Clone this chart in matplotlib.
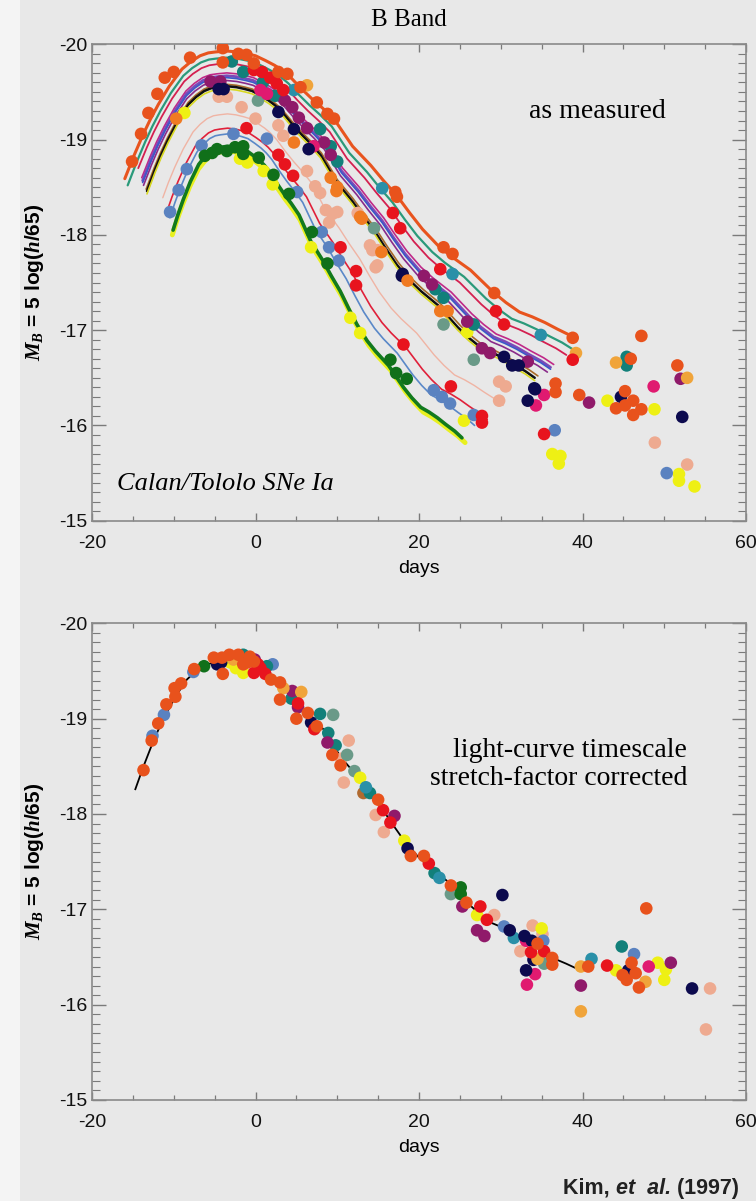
import numpy as np
import matplotlib
matplotlib.use("Agg")
import matplotlib.pyplot as plt
from matplotlib.patches import Rectangle
from matplotlib.ticker import MultipleLocator

plt.rcParams["axes.unicode_minus"] = False
plt.rcParams["mathtext.fontset"] = "custom"
plt.rcParams["mathtext.it"] = "Liberation Serif:italic:bold"
plt.rcParams["mathtext.rm"] = "Liberation Sans:bold"

SANS = ["Liberation Sans", "DejaVu Sans"]
SERIF = ["Liberation Serif", "DejaVu Serif"]
BG = "#e8e8e8"

# template light curve (black line of the lower panel): day, magnitude
tmpl_day = [-14.7, -13.7, -12.7, -11.9, -11.0, -9.8, -8.4, -7.4, -6.4, -5.5, -4.7, -3.5,
            -2.3, -1.2, -0.3, 0.8, 1.8, 2.6, 3.5, 4.7, 5.9, 7.1, 8.4, 9.4, 10.4, 11.4,
            12.4, 13.8, 15.3, 16.7, 18.1, 19.8, 21.2, 23.4, 25.9, 27.3, 28.8, 30.2,
            31.6, 33.0, 34.5, 35.7, 36.9, 38.0, 39.0]
tmpl_mag = [-18.26, -18.50, -18.72, -18.88, -19.04, -19.23, -19.41, -19.49, -19.55, -19.58,
            -19.59, -19.60, -19.59, -19.57, -19.55, -19.50, -19.45, -19.40, -19.33, -19.21,
            -19.10, -19.00, -18.88, -18.74, -18.60, -18.50, -18.40, -18.24, -18.08, -17.90,
            -17.73, -17.56, -17.45, -17.30, -17.07, -16.96, -16.86, -16.81, -16.75, -16.68,
            -16.61, -16.54, -16.47, -16.43, -16.39]

# fitted curves of the upper panel (stretched template)
curve_color = ["#e8541e", "#2a9a7a", "#d42050", "#c02888", "#7a4ab8", "#3a5ac8", "#8a2a8a",
               "#a86a28", "#101010", "#d8d820", "#f0b4a4", "#e0203a", "#5a88c8", "#e8f020",
               "#127a1e"]
curve_peak = [-19.93, -19.86, -19.80, -19.70, -19.67, -19.65, -19.62, -19.58, -19.56, -19.53,
              -19.27, -19.12, -19.06, -18.88, -18.93]
curve_stretch = [1.11, 1.08, 1.06, 1.02, 1.01, 1.01, 1.00, 0.97, 0.96, 0.96, 0.86, 0.81,
                 0.77, 0.74, 0.73]
curve_start = [-16.0, -15.8, -15.2, -14.5, -14.3, -14.1, -13.9, -13.7, -13.6, -13.5, -11.9,
               -11.3, -10.6, -10.4, -10.2]
curve_end = [38.8, 38.8, 38.8, 36.7, 36.7, 36.7, 36.7, 34.9, 34.9, 34.9, 30.8, 28.7, 27.5,
             26.0, 25.7]
curve_width = [2.2, 1.6, 1.3, 1.2, 2.0, 1.2, 1.2, 1.2, 1.8, 1.2, 1.0, 1.2, 1.2, 3.5, 2.6]

# observed points, upper panel (day, mag) by colour
top_orangered = [(-15.1, -18.77), (-14.0, -19.06), (-13.1, -19.28), (-12.0, -19.48),
                 (-11.1, -19.65), (-10.0, -19.71), (-8.0, -19.86), (-4.0, -19.96),
                 (-2.1, -19.90), (-1.1, -19.89), (-4.0, -19.81), (-0.2, -19.80), (2.8, -19.71),
                 (3.9, -19.69), (5.5, -19.55), (7.5, -19.39), (8.8, -19.27), (9.6, -19.22),
                 (17.1, -18.45), (17.3, -18.40), (23.0, -17.87), (24.1, -17.80), (29.2, -17.39),
                 (38.8, -16.92), (36.7, -16.44), (36.7, -16.35), (39.6, -16.32), (45.2, -16.36),
                 (44.1, -16.18), (45.2, -16.21), (46.2, -16.26), (46.2, -16.11), (47.2, -16.17),
                 (47.2, -16.94), (51.6, -16.63), (45.9, -16.70)]
top_orange = [(-9.7, -19.22), (4.7, -18.97), (9.2, -18.60), (10.0, -18.50), (12.8, -18.19),
              (13.0, -18.17), (15.4, -17.82), (18.6, -17.52), (22.6, -17.20), (23.5, -17.20),
              (9.9, -18.46)]
top_amber = [(6.3, -19.57), (39.2, -16.76), (44.1, -16.66), (52.8, -16.50)]
top_red = [(-1.1, -19.12), (2.8, -18.84), (3.6, -18.74), (4.6, -18.62), (10.4, -17.87),
           (12.3, -17.62), (12.3, -17.47), (18.1, -16.85), (23.9, -16.41), (27.7, -16.10),
           (27.7, -16.03), (35.3, -15.91), (-0.2, -19.73), (0.8, -19.71), (1.8, -19.65),
           (2.6, -19.59), (3.4, -19.52), (16.8, -18.23), (17.7, -18.07), (22.6, -17.64),
           (29.4, -17.20), (30.4, -17.06), (38.8, -16.69)]
top_teal = [(-2.9, -19.82), (-1.5, -19.71), (0.9, -19.60), (2.4, -19.46), (7.9, -19.11),
            (9.2, -18.93), (10.0, -18.77), (22.0, -17.43), (23.0, -17.34), (26.7, -17.06),
            (45.4, -16.72), (45.4, -16.63)]
top_tealblue = [(4.7, -19.52), (15.5, -18.49), (24.1, -17.59), (34.9, -16.95)]
top_steel = [(-10.45, -18.24), (-9.4, -18.47), (-8.4, -18.69), (-6.6, -18.94), (-2.7, -19.06),
             (1.4, -19.01), (5.1, -18.45), (8.1, -18.03), (9.0, -17.87), (10.2, -17.73),
             (21.8, -16.37), (22.8, -16.30), (23.8, -16.23), (26.7, -16.11), (36.6, -15.95),
             (50.3, -15.50)]
top_yellow = [(-8.7, -19.28), (-1.9, -18.80), (-1.0, -18.76), (1.0, -18.67), (2.1, -18.53),
              (6.8, -17.87), (11.6, -17.13), (12.8, -16.97), (25.5, -16.05), (25.9, -16.98),
              (43.05, -16.26), (48.8, -16.17), (36.3, -15.70), (37.3, -15.68), (37.1, -15.60),
              (51.8, -15.49), (51.8, -15.42), (53.7, -15.36)]
top_green = [(-6.2, -18.83), (-5.3, -18.86), (-4.7, -18.90), (-3.5, -18.88), (-2.5, -18.92),
             (-1.5, -18.93), (-1.5, -18.85), (0.4, -18.81), (2.2, -18.63), (4.1, -18.43),
             (6.9, -18.03), (8.8, -17.70), (16.5, -16.69), (17.2, -16.55), (18.5, -16.49)]
top_navy = [(-4.5, -19.53), (-3.9, -19.53), (2.8, -19.29), (4.7, -19.11), (6.5, -18.90),
            (17.9, -17.57), (18.0, -17.59), (30.4, -16.72), (31.4, -16.63), (32.2, -16.63),
            (34.1, -16.39), (33.3, -16.26), (34.2, -16.38), (44.7, -16.30), (52.2, -16.09)]
top_purple = [(3.6, -19.41), (4.5, -19.34), (5.3, -19.23), (6.3, -19.12), (8.4, -18.97),
              (9.2, -18.84), (20.6, -17.57), (21.6, -17.48), (25.9, -17.09), (27.7, -16.81),
              (28.7, -16.76), (33.3, -16.67), (40.8, -16.24), (52.0, -16.49), (-5.5, -19.61),
              (-4.3, -19.61)]
top_pink = [(0.6, -19.52), (1.4, -19.48), (7.1, -18.93), (34.3, -16.21), (35.3, -16.32),
            (48.7, -16.41)]
top_salmon = [(-4.5, -19.45), (-3.5, -19.45), (-1.7, -19.34), (0.0, -19.22), (2.8, -19.15),
              (3.4, -19.04), (6.3, -18.67), (7.3, -18.51), (7.9, -18.44), (8.6, -18.26),
              (9.4, -18.22), (9.0, -18.13), (10.0, -18.24), (12.5, -18.23), (14.0, -17.89),
              (14.9, -17.84), (14.9, -17.68), (14.3, -17.84), (14.7, -17.66), (29.8, -16.46),
              (30.6, -16.41), (29.8, -16.26), (48.85, -15.82), (52.8, -15.59)]
top_graygreen = [(0.3, -19.41), (14.5, -18.07), (23.0, -17.06), (26.7, -16.69)]

# observed points, lower panel (stretch corrected)
bot_orangered = [(-13.7, -18.46), (-12.7, -18.77), (-11.9, -18.95), (-10.9, -19.15),
                 (-9.8, -19.23), (-9.9, -19.32), (-9.1, -19.37), (-7.5, -19.52), (-5.1, -19.64),
                 (-4.1, -19.64), (-4.0, -19.47), (-3.2, -19.67), (-2.1, -19.67), (-1.5, -19.57),
                 (-1.0, -19.59), (-0.7, -19.65), (-0.2, -19.60), (1.9, -19.41), (3.0, -19.38),
                 (3.0, -19.20), (5.0, -19.00), (6.4, -19.06), (7.5, -18.92), (9.4, -18.62),
                 (10.4, -18.51), (15.0, -18.15), (19.0, -17.56), (20.6, -17.56), (23.9, -17.25),
                 (25.8, -17.07), (34.5, -16.64), (36.3, -16.49), (36.3, -16.42), (40.7, -16.40),
                 (46.0, -16.44), (46.5, -16.33), (45.4, -16.26), (46.9, -16.18), (47.8, -17.01),
                 (44.9, -16.31)]
bot_red = [(-0.2, -19.48), (0.3, -19.57), (0.6, -19.53), (1.2, -19.47), (5.2, -19.16),
           (7.2, -18.89), (15.6, -18.04), (16.5, -17.91), (21.2, -17.48), (27.5, -17.03),
           (28.3, -16.89), (33.7, -16.55), (35.3, -16.56), (43.0, -16.41)]
bot_steel = [(-12.6, -18.82), (-11.2, -19.04), (-7.6, -19.49), (2.1, -19.57), (30.4, -16.82),
             (35.2, -16.67), (46.3, -16.53)]
bot_green = [(-6.3, -19.55), (25.1, -17.23), (25.1, -17.16)]
bot_navy = [(-4.7, -19.57), (-4.2, -19.59), (6.8, -18.96), (18.6, -17.64), (30.2, -17.15),
            (31.1, -16.78), (32.9, -16.72), (33.8, -16.67), (34.0, -16.47), (33.1, -16.36),
            (45.6, -16.36), (53.4, -16.17)]
bot_yellow = [(-3.1, -19.59), (-2.4, -19.53), (-1.5, -19.48), (12.8, -18.38), (18.2, -17.72),
              (27.1, -16.94), (35.0, -16.80), (44.1, -16.36), (49.2, -16.44), (50.2, -16.37),
              (50.0, -16.26)]
bot_amber = [(-2.7, -19.62), (3.4, -19.32), (5.6, -19.28), (34.5, -16.48), (39.8, -16.40),
             (39.8, -15.93), (47.7, -16.24)]
bot_teal = [(-1.5, -19.67), (1.4, -19.55), (4.4, -19.21), (7.9, -19.05), (8.9, -18.85),
            (9.8, -18.72), (14.0, -18.22), (21.9, -17.38), (44.8, -16.61)]
bot_tealblue = [(13.5, -18.28), (22.5, -17.33), (31.6, -16.70), (41.1, -16.48)]
bot_purple = [(-0.1, -19.62), (4.5, -19.29), (5.2, -19.12), (8.8, -18.75), (17.0, -17.98),
              (25.3, -17.03), (27.1, -16.78), (28.0, -16.72), (39.8, -16.20), (50.8, -16.44)]
bot_pink = [(33.1, -16.67), (34.2, -16.32), (33.2, -16.21), (48.1, -16.40)]
bot_salmon = [(11.4, -18.77), (10.5, -18.58), (10.8, -18.33), (14.7, -17.99), (15.7, -17.81),
              (29.2, -16.94), (33.9, -16.83), (35.1, -16.74), (32.4, -16.56), (55.6, -16.17),
              (55.1, -15.74)]
bot_graygreen = [(9.5, -19.04), (11.2, -18.62), (12.1, -18.45), (23.9, -17.16), (35.3, -16.43)]
bot_brown = [(13.2, -18.22)]

C = {"orangered": "#e8521c", "orange": "#f07a22", "amber": "#f0a43a", "red": "#e8141e",
     "teal": "#12807a", "tealblue": "#2a90a8", "steel": "#5a82c0", "yellow": "#eef014",
     "green": "#10701a", "navy": "#0c0a4e", "purple": "#901a6a", "pink": "#e01a70",
     "salmon": "#eeaa90", "graygreen": "#6a9a88", "brown": "#b06a30"}

top_sets = [(top_salmon, "salmon"), (top_graygreen, "graygreen"), (top_yellow, "yellow"),
            (top_steel, "steel"), (top_green, "green"), (top_teal, "teal"),
            (top_tealblue, "tealblue"), (top_purple, "purple"), (top_pink, "pink"),
            (top_navy, "navy"), (top_orange, "orange"), (top_amber, "amber"),
            (top_red, "red"), (top_orangered, "orangered")]
bot_sets = [(bot_salmon, "salmon"), (bot_graygreen, "graygreen"), (bot_brown, "brown"),
            (bot_yellow, "yellow"), (bot_steel, "steel"), (bot_green, "green"),
            (bot_teal, "teal"), (bot_tealblue, "tealblue"), (bot_purple, "purple"),
            (bot_pink, "pink"), (bot_navy, "navy"), (bot_amber, "amber"),
            (bot_red, "red"), (bot_orangered, "orangered")]


def style_axes(ax):
    ax.set_facecolor(BG)
    ax.set_xlim(-20, 60)
    ax.set_ylim(-15, -20)
    ax.xaxis.set_major_locator(MultipleLocator(20))
    ax.xaxis.set_minor_locator(MultipleLocator(5))
    ax.yaxis.set_major_locator(MultipleLocator(1))
    ax.yaxis.set_minor_locator(MultipleLocator(0.1))
    ax.tick_params(axis="both", which="both", direction="in", top=True, right=True,
                   colors="#7a7a7a", labelcolor="#111111")
    ax.tick_params(axis="x", which="major", length=6, width=1.0, pad=10, labelsize=14)
    ax.tick_params(axis="x", which="minor", length=3.5, width=0.9)
    ax.tick_params(axis="y", which="major", length=10, width=1.0, pad=3.5, labelsize=14)
    ax.tick_params(axis="y", which="minor", length=5.5, width=0.8)
    for lab in ax.get_xticklabels() + ax.get_yticklabels():
        lab.set_family(SANS)
    for sp in ax.spines.values():
        sp.set_color("#8a8a8a")
        sp.set_linewidth(1.2)
    ax.set_xlabel("days", family=SANS, fontsize=14, labelpad=6)
    ax.set_ylabel(r"$M_B$ = 5 log($h$/65)", family=SANS, fontweight="bold", fontsize=15)
    ax.yaxis.set_label_coords(-0.07, 0.5)


fig = plt.figure(figsize=(7.56, 12.01), dpi=100, facecolor=BG)
fig.patches.append(Rectangle((0, 0), 20 / 756, 1, transform=fig.transFigure,
                             facecolor="#f4f4f4", edgecolor="none", zorder=0))

ax1 = fig.add_axes([0.1217, 0.5664, 0.8651, 0.3967])
ax2 = fig.add_axes([0.1217, 0.0841, 0.8651, 0.3969])
style_axes(ax1)
style_axes(ax2)

# upper panel: stretched template for each supernova
td = np.array(tmpl_day)
tm = np.array(tmpl_mag)
t0 = -3.0
for col, pk, s, d0, d1, lw in zip(curve_color, curve_peak, curve_stretch, curve_start,
                                  curve_end, curve_width):
    days = t0 + (td - t0) * s
    mags = tm + (pk - tm.min())
    keep = (days >= d0) & (days <= d1)
    ax1.plot(days[keep], mags[keep], color=col, lw=lw, zorder=2, solid_capstyle="round",
             solid_joinstyle="round")

for pts, key in top_sets:
    arr = np.array(pts)
    ax1.scatter(arr[:, 0], arr[:, 1], s=82, color=C[key], edgecolors="none", zorder=3)

# lower panel
ax2.plot(tmpl_day, tmpl_mag, color="black", lw=1.3, zorder=2)
for pts, key in bot_sets:
    arr = np.array(pts)
    ax2.scatter(arr[:, 0], arr[:, 1], s=82, color=C[key], edgecolors="none", zorder=3)

fig.text(0.541, 0.983, "B Band", ha="center", va="center", family=SERIF, fontsize=18)
ax1.text(33.4, -19.3, "as measured", ha="left", va="center", family=SERIF, fontsize=20)
ax1.text(-16.9, -15.39, "Calan/Tololo SNe Ia", ha="left", va="center", family=SERIF,
         style="italic", fontsize=19)
ax2.text(52.8, -18.52, "light-curve timescale\nstretch-factor corrected", ha="right",
         va="center", multialignment="right", family=SERIF, fontsize=20, linespacing=1.2)

t1 = fig.text(0.745, 0.006, "Kim, ", family=SANS, fontweight="bold", fontsize=15.5,
              va="baseline", color="#222222")
t2 = ax2.annotate("et  al.", xy=(1, 0), xycoords=t1, va="bottom", ha="left", family=SANS,
                  fontweight="bold", style="italic", fontsize=15.5, color="#222222",
                  annotation_clip=False)
ax2.annotate(" (1997)", xy=(1, 0), xycoords=t2, va="bottom", ha="left", family=SANS,
             fontweight="bold", fontsize=15.5, color="#222222", annotation_clip=False)

fig.savefig("out.png", dpi=100, facecolor=BG)
